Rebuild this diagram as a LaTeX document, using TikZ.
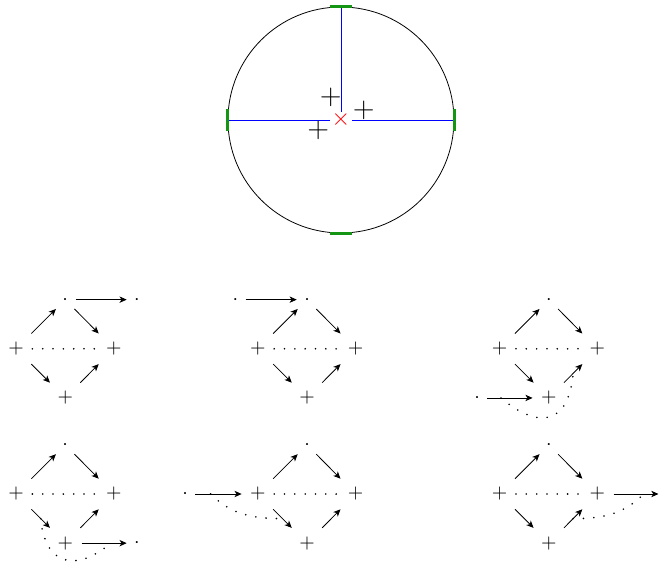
\documentclass[tikz,border=0pt]{standalone}
\usetikzlibrary{arrows.meta}
\definecolor{markgreen}{RGB}{20,150,20}
\tikzset{
  pnode/.style={inner sep=0pt,minimum width=16pt,minimum height=15pt},
  dnode/.style={inner sep=0pt,minimum width=10pt,minimum height=9pt},
  dotline/.style={dash pattern=on 0pt off 5.2pt,line cap=round,line width=0.9pt},
  greenbar/.style={markgreen,line width=1.6pt},
  sqr/.pic={
    \node[pnode] (-l) at (0,0) {$+$};
    \node[dnode] (-t) at (0.87,0.87) {$\cdot$};
    \node[pnode] (-r) at (1.73,0) {$+$};
    \node[pnode] (-b) at (0.87,-0.87) {$+$};
    \draw[->] (-l) -- (-t);
    \draw[->] (-t) -- (-r);
    \draw[->] (-l) -- (-b) coordinate[midway] (-lb);
    \draw[->] (-b) -- (-r) coordinate[midway] (-br);
    \draw[dotline] (-l) -- (-r);
  }
}
\begin{document}
\begin{tikzpicture}[>={Stealth[length=3.6pt,width=3.2pt,inset=1pt]}]
\useasboundingbox (-6.035,2.124) rectangle (5.70,-7.84);
% circle
\node[circle,draw,inner sep=0pt,minimum size=4cm] (o) at (0,0) {};
\node[red,inner sep=0pt,minimum width=11pt,minimum height=8pt] (c) at (0,0) {\large$\times$};
\draw[blue] (o.north) -- (c);
\draw[blue] (o.west) -- (c);
\draw[blue] (o.east) -- (c);
\draw[greenbar] ([xshift=-0.2cm]o.north) -- ([xshift=0.2cm]o.north);
\draw[greenbar] ([xshift=-0.2cm]o.south) -- ([xshift=0.2cm]o.south);
\draw[greenbar] ([yshift=-0.2cm]o.west) -- ([yshift=0.2cm]o.west);
\draw[greenbar] ([yshift=-0.2cm]o.east) -- ([yshift=0.2cm]o.east);
\node[inner sep=0pt] (p1) at (114:0.44) {\Large$+$};
\node[inner sep=0pt] (p2) at (24:0.44) {\Large$+$};
\node[inner sep=0pt] (p3) at (204:0.44) {\Large$+$};
% squares
\pic (d1) at (-5.75,-4.05) {sqr};
\pic (d2) at (-1.47,-4.05) {sqr};
\pic (d3) at (2.81,-4.05) {sqr};
\pic (d4) at (-5.75,-6.62) {sqr};
\pic (d5) at (-1.47,-6.62) {sqr};
\pic (d6) at (2.81,-6.62) {sqr};
% extra arrows
\path (d1-t) ++(1.27,0) node[dnode] (d1e) {$\cdot$};
\draw[->] (d1-t) -- (d1e);
\path (d2-t) ++(-1.27,0) node[dnode] (d2e) {$\cdot$};
\draw[->] (d2e) -- (d2-t);
\path (d3-b) ++(-1.27,0) node[dnode] (d3e) {$\cdot$};
\draw[->] (d3e) -- (d3-b) coordinate[pos=0.3] (d3m);
\draw[dotline] (d3m) to[out=-40,in=-95,looseness=1.7] (d3-br);
\path (d4-b) ++(1.27,0) node[dnode] (d4e) {$\cdot$};
\draw[->] (d4-b) -- (d4e) coordinate[pos=0.65] (d4m);
\draw[dotline] (d4-lb) to[out=-85,in=-140,looseness=1.6] (d4m);
\path (d5-l) ++(-1.29,0) node[dnode] (d5e) {$\cdot$};
\draw[->] (d5e) -- (d5-l) coordinate[pos=0.33] (d5m);
\draw[dotline] (d5m) to[out=-45,in=180] (d5-lb);
\path (d6-r) ++(1.08,0) coordinate (d6e);
\draw[->] (d6-r) -- (d6e) coordinate[pos=0.67] (d6m);
\draw[dotline] (d6-br) to[out=0,in=-135] (d6m);
\end{tikzpicture}
\end{document}
